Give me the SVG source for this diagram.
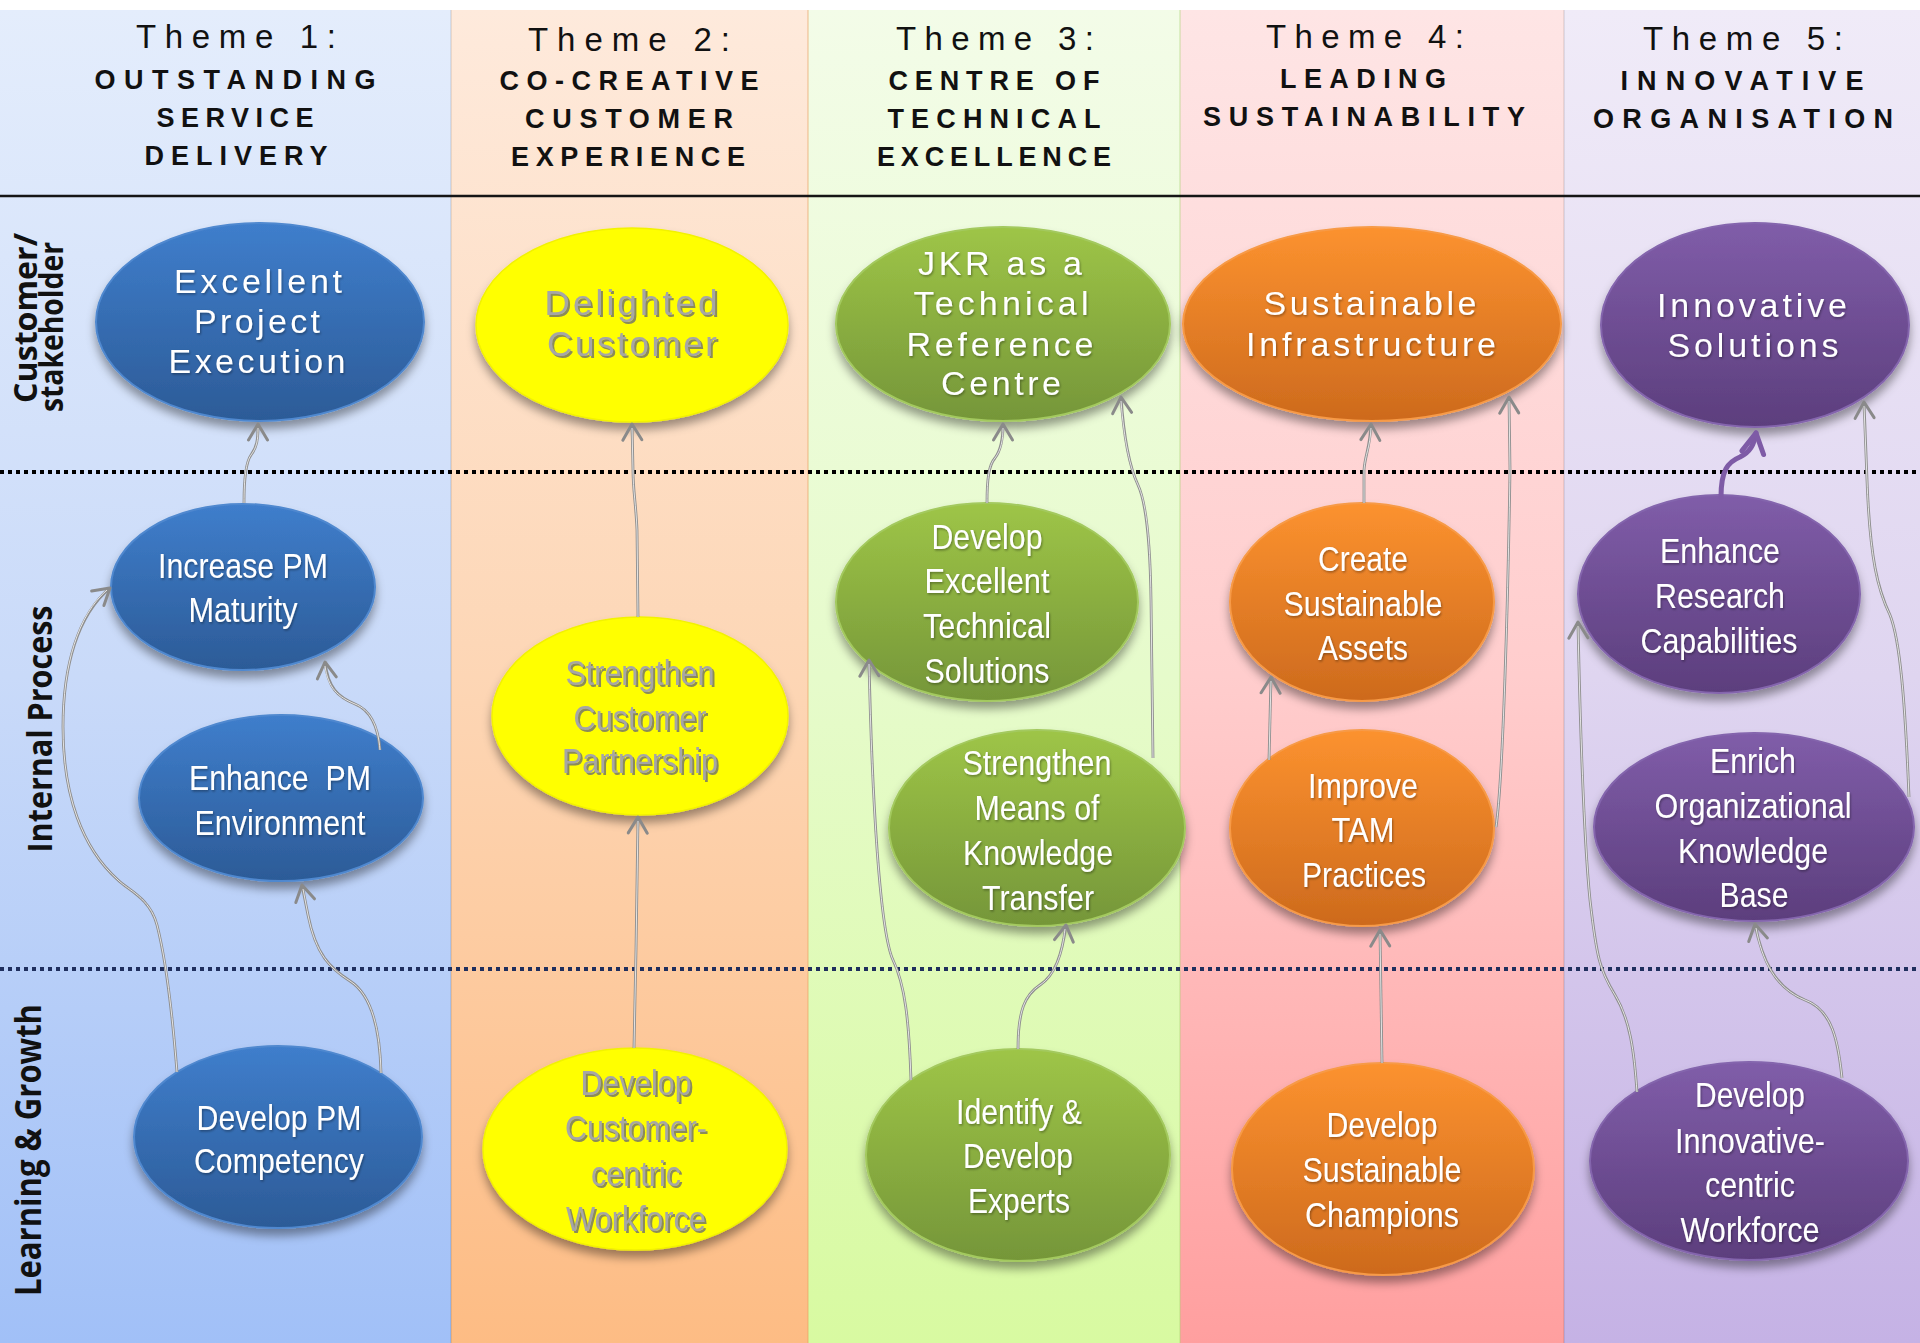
<svg xmlns="http://www.w3.org/2000/svg" width="1920" height="1343" viewBox="0 0 1920 1343">
<defs>
<style>
.hd{font-family:"Liberation Sans",Arial,sans-serif;font-size:33px;fill:#111;text-anchor:middle}
.hb{font-family:"Liberation Sans",Arial,sans-serif;font-size:27px;font-weight:700;fill:#111;text-anchor:middle}
.lab{font-family:"Open Sans","Liberation Sans",sans-serif;font-weight:700;fill:#111;text-anchor:middle}
.t1{font-family:"Liberation Sans",Arial,sans-serif;font-size:34px;fill:#fff;text-anchor:middle;filter:url(#tsh)}
.t{font-family:"Liberation Sans",Arial,sans-serif;font-size:35px;fill:#fff;text-anchor:middle;filter:url(#tsh)}
.ty1{font-family:"Liberation Sans",Arial,sans-serif;font-size:35px;fill:#A6A6A6;text-anchor:middle;filter:url(#ysh)}
.ty{font-family:"Liberation Sans",Arial,sans-serif;font-size:35px;fill:#A6A6A6;text-anchor:middle;filter:url(#ysh)}
.node ellipse{filter:url(#esh)}
.blue{fill:url(#gBlue);stroke:#4F88CF;stroke-width:2}
.yel{fill:#FFFF00;stroke:#F2F200;stroke-width:1.5}
.grn{fill:url(#gGreen);stroke:#A3C95E;stroke-width:2}
.org{fill:url(#gOrange);stroke:#F79A46;stroke-width:2}
.pur{fill:url(#gPurple);stroke:#8465AD;stroke-width:2}
.co{fill:none;stroke:#8E8E8E;stroke-width:2.8;marker-end:url(#arr)}
.ci{fill:none;stroke:#EDEDED;stroke-width:0.9}
.cp{fill:none;stroke:#7E5BA6;stroke-width:5;stroke-linecap:round;marker-end:url(#arrP)}
.dot{stroke-width:4;stroke-dasharray:4 4}
.dsh{stroke:#000;stroke-opacity:0.13;stroke-width:6;filter:url(#blur)}
</style>
<linearGradient id="c1" x1="0" y1="0" x2="0" y2="1"><stop offset="0" stop-color="#E4EDFC"/><stop offset="0.5" stop-color="#C9DAF9"/><stop offset="1" stop-color="#A1C0F7"/></linearGradient>
<linearGradient id="c2" x1="0" y1="0" x2="0" y2="1"><stop offset="0" stop-color="#FEEADC"/><stop offset="0.5" stop-color="#FDD6B5"/><stop offset="1" stop-color="#FDBC84"/></linearGradient>
<linearGradient id="c3" x1="0" y1="0" x2="0" y2="1"><stop offset="0" stop-color="#F3FCE8"/><stop offset="0.5" stop-color="#E6FBCB"/><stop offset="1" stop-color="#D8FAA1"/></linearGradient>
<linearGradient id="c4" x1="0" y1="0" x2="0" y2="1"><stop offset="0" stop-color="#FEE5E5"/><stop offset="0.5" stop-color="#FFCDCD"/><stop offset="1" stop-color="#FF9F9F"/></linearGradient>
<linearGradient id="c5" x1="0" y1="0" x2="0" y2="1"><stop offset="0" stop-color="#F0EBF8"/><stop offset="0.5" stop-color="#DFD5F0"/><stop offset="1" stop-color="#C5B2E5"/></linearGradient>
<linearGradient id="gBlue" x1="0" y1="0" x2="0" y2="1"><stop offset="0" stop-color="#3F7ECC"/><stop offset="1" stop-color="#2C5B97"/></linearGradient>
<linearGradient id="gGreen" x1="0" y1="0" x2="0" y2="1"><stop offset="0" stop-color="#9EC547"/><stop offset="1" stop-color="#759639"/></linearGradient>
<linearGradient id="gOrange" x1="0" y1="0" x2="0" y2="1"><stop offset="0" stop-color="#FC922F"/><stop offset="1" stop-color="#CD6A1D"/></linearGradient>
<linearGradient id="gPurple" x1="0" y1="0" x2="0" y2="1"><stop offset="0" stop-color="#805DA9"/><stop offset="1" stop-color="#5C3E7D"/></linearGradient>
<filter id="esh" x="-20%" y="-20%" width="140%" height="150%"><feDropShadow dx="0" dy="7" stdDeviation="5" flood-color="#000" flood-opacity="0.38"/></filter>
<filter id="tsh" x="-10%" y="-30%" width="120%" height="160%"><feDropShadow dx="1" dy="1.5" stdDeviation="1" flood-color="#000" flood-opacity="0.35"/></filter>
<filter id="ysh" x="-10%" y="-30%" width="120%" height="160%"><feDropShadow dx="2" dy="2" stdDeviation="0.6" flood-color="#6E6E6E" flood-opacity="0.8"/></filter>
<filter id="blur" x="-5%" y="-200%" width="110%" height="500%"><feGaussianBlur stdDeviation="3"/></filter>
<marker id="arr" viewBox="-20 -12 24 24" refX="0" refY="0" markerWidth="24" markerHeight="24" orient="auto" markerUnits="userSpaceOnUse"><path d="M-16,-9.5 L0,0 L-16,9.5" fill="none" stroke="#8A8A8A" stroke-width="3" stroke-linecap="round" stroke-linejoin="round"/></marker>
<marker id="arrP" viewBox="-26 -15 30 30" refX="0" refY="0" markerWidth="30" markerHeight="30" orient="auto" markerUnits="userSpaceOnUse"><path d="M-20,-11 L0,0 L-20,11" fill="none" stroke="#7E5BA6" stroke-width="5" stroke-linecap="round" stroke-linejoin="round"/></marker>
</defs>

<rect x="0" y="0" width="1920" height="1343" fill="#fff"/>

<g id="columns">
<rect x="0" y="10" width="451" height="1333" fill="url(#c1)"/>
<rect x="451" y="10" width="357" height="1333" fill="url(#c2)"/>
<rect x="808" y="10" width="372" height="1333" fill="url(#c3)"/>
<rect x="1180" y="10" width="384" height="1333" fill="url(#c4)"/>
<rect x="1564" y="10" width="356" height="1333" fill="url(#c5)"/>
<line x1="451" y1="10" x2="451" y2="1343" stroke="#000" stroke-opacity="0.08" stroke-width="2"/>
<line x1="808" y1="10" x2="808" y2="1343" stroke="#E8A060" stroke-opacity="0.35" stroke-width="2"/>
<line x1="1180" y1="10" x2="1180" y2="1343" stroke="#A8D070" stroke-opacity="0.3" stroke-width="2"/>
<line x1="1564" y1="10" x2="1564" y2="1343" stroke="#000" stroke-opacity="0.08" stroke-width="2"/>
</g>

<g id="headers">
<text class="hd" x="236" y="48" textLength="200" lengthAdjust="spacing">Theme 1:</text>
<text class="hb" x="235" y="89" textLength="281" lengthAdjust="spacing">OUTSTANDING</text>
<text class="hb" x="235" y="127" textLength="157" lengthAdjust="spacing">SERVICE</text>
<text class="hb" x="236" y="165" textLength="183" lengthAdjust="spacing">DELIVERY</text>
<text class="hd" x="629" y="51" textLength="202" lengthAdjust="spacing">Theme 2:</text>
<text class="hb" x="629" y="90" textLength="259" lengthAdjust="spacing">CO-CREATIVE</text>
<text class="hb" x="629" y="128" textLength="208" lengthAdjust="spacing">CUSTOMER</text>
<text class="hb" x="628" y="166" textLength="234" lengthAdjust="spacing">EXPERIENCE</text>
<text class="hd" x="995" y="50" textLength="198" lengthAdjust="spacing">Theme 3:</text>
<text class="hb" x="994" y="90" textLength="211" lengthAdjust="spacing">CENTRE OF</text>
<text class="hb" x="994" y="128" textLength="213" lengthAdjust="spacing">TECHNICAL</text>
<text class="hb" x="994" y="166" textLength="234" lengthAdjust="spacing">EXCELLENCE</text>
<text class="hd" x="1365" y="48" textLength="198" lengthAdjust="spacing">Theme 4:</text>
<text class="hb" x="1363" y="88" textLength="166" lengthAdjust="spacing">LEADING</text>
<text class="hb" x="1364" y="126" textLength="322" lengthAdjust="spacing">SUSTAINABILITY</text>
<text class="hd" x="1743" y="50" textLength="200" lengthAdjust="spacing">Theme 5:</text>
<text class="hb" x="1742" y="90" textLength="243" lengthAdjust="spacing">INNOVATIVE</text>
<text class="hb" x="1743" y="128" textLength="300" lengthAdjust="spacing">ORGANISATION</text>
</g>

<g id="dividers">
<line class="dsh" x1="0" y1="203" x2="1920" y2="203"/>
<line x1="0" y1="196" x2="1920" y2="196" stroke="#151515" stroke-width="2.5"/>
<line class="dsh" x1="0" y1="479" x2="1920" y2="479"/>
<line class="dot" x1="0" y1="472" x2="1920" y2="472" stroke="#000"/>
<line class="dsh" x1="0" y1="976" x2="1920" y2="976"/>
<line class="dot" x1="0" y1="969" x2="1920" y2="969" stroke="#1F2F5E"/>
</g>

<g id="row-labels">
<text class="lab" font-size="32" transform="translate(37,318) rotate(-90)" textLength="170" lengthAdjust="spacingAndGlyphs">Customer/</text>
<text class="lab" font-size="32" transform="translate(63,327) rotate(-90)" textLength="170" lengthAdjust="spacingAndGlyphs">stakeholder</text>
<text class="lab" font-size="34" transform="translate(52,729) rotate(-90)" textLength="247" lengthAdjust="spacingAndGlyphs">Internal Process</text>
<text class="lab" font-size="35" transform="translate(41,1150) rotate(-90)" textLength="292" lengthAdjust="spacingAndGlyphs">Learning &amp; Growth</text>
</g>

<g id="n-excellent-project-execution" class="node">
<ellipse class="blue" cx="260" cy="322" rx="164" ry="99"/>
<text class="t1" x="258" y="293" textLength="168" lengthAdjust="spacing">Excellent</text>
<text class="t1" x="257" y="333" textLength="126" lengthAdjust="spacing">Project</text>
<text class="t1" x="257" y="373" textLength="177" lengthAdjust="spacing">Execution</text>
</g>
<g id="n-delighted-customer" class="node">
<ellipse class="yel" cx="632" cy="325" rx="156" ry="97"/>
<text class="ty1" x="631" y="315" textLength="173" lengthAdjust="spacing">Delighted</text>
<text class="ty1" x="632" y="356" textLength="170" lengthAdjust="spacing">Customer</text>
</g>
<g id="n-jkr-reference-centre" class="node">
<ellipse class="grn" cx="1003" cy="324" rx="167" ry="97"/>
<text class="t1" x="1000" y="275" textLength="164" lengthAdjust="spacing">JKR as a</text>
<text class="t1" x="1001" y="315" textLength="175" lengthAdjust="spacing">Technical</text>
<text class="t1" x="1000" y="356" textLength="187" lengthAdjust="spacing">Reference</text>
<text class="t1" x="1001" y="395" textLength="120" lengthAdjust="spacing">Centre</text>
</g>
<g id="n-sustainable-infrastructure" class="node">
<ellipse class="org" cx="1372" cy="324" rx="189" ry="97"/>
<text class="t1" x="1370" y="315" textLength="213" lengthAdjust="spacing">Sustainable</text>
<text class="t1" x="1371" y="356" textLength="250" lengthAdjust="spacing">Infrastructure</text>
</g>
<g id="n-innovative-solutions" class="node">
<ellipse class="pur" cx="1755" cy="325" rx="154" ry="102"/>
<text class="t1" x="1752" y="317" textLength="190" lengthAdjust="spacing">Innovative</text>
<text class="t1" x="1753" y="357" textLength="171" lengthAdjust="spacing">Solutions</text>
</g>

<g id="n-increase-pm-maturity" class="node">
<ellipse class="blue" cx="243" cy="587" rx="132" ry="83"/>
<text class="t" x="243" y="578" textLength="170" lengthAdjust="spacingAndGlyphs">Increase PM</text>
<text class="t" x="243" y="622" textLength="109" lengthAdjust="spacingAndGlyphs">Maturity</text>
</g>
<g id="n-enhance-pm-environment" class="node">
<ellipse class="blue" cx="281" cy="798" rx="142" ry="83"/>
<text class="t" x="280" y="790" textLength="182" lengthAdjust="spacingAndGlyphs" style="white-space:pre">Enhance  PM</text>
<text class="t" x="280" y="835" textLength="171" lengthAdjust="spacingAndGlyphs">Environment</text>
</g>
<g id="n-strengthen-customer-partnership" class="node">
<ellipse class="yel" cx="640" cy="716" rx="148" ry="99"/>
<text class="ty" x="640" y="685" textLength="149" lengthAdjust="spacingAndGlyphs">Strengthen</text>
<text class="ty" x="640" y="730" textLength="133" lengthAdjust="spacingAndGlyphs">Customer</text>
<text class="ty" x="640" y="773" textLength="156" lengthAdjust="spacingAndGlyphs">Partnership</text>
</g>
<g id="n-develop-technical-solutions" class="node">
<ellipse class="grn" cx="987" cy="602" rx="151" ry="99"/>
<text class="t" x="987" y="549" textLength="111" lengthAdjust="spacingAndGlyphs">Develop</text>
<text class="t" x="987" y="593" textLength="125" lengthAdjust="spacingAndGlyphs">Excellent</text>
<text class="t" x="987" y="638" textLength="128" lengthAdjust="spacingAndGlyphs">Technical</text>
<text class="t" x="987" y="683" textLength="125" lengthAdjust="spacingAndGlyphs">Solutions</text>
</g>
<g id="n-knowledge-transfer" class="node">
<ellipse class="grn" cx="1037" cy="828" rx="148" ry="98"/>
<text class="t" x="1037" y="775" textLength="149" lengthAdjust="spacingAndGlyphs">Strengthen</text>
<text class="t" x="1037" y="820" textLength="125" lengthAdjust="spacingAndGlyphs">Means of</text>
<text class="t" x="1038" y="865" textLength="150" lengthAdjust="spacingAndGlyphs">Knowledge</text>
<text class="t" x="1038" y="910" textLength="112" lengthAdjust="spacingAndGlyphs">Transfer</text>
</g>
<g id="n-create-sustainable-assets" class="node">
<ellipse class="org" cx="1362" cy="602" rx="132" ry="99"/>
<text class="t" x="1363" y="571" textLength="90" lengthAdjust="spacingAndGlyphs">Create</text>
<text class="t" x="1363" y="616" textLength="159" lengthAdjust="spacingAndGlyphs">Sustainable</text>
<text class="t" x="1363" y="660" textLength="90" lengthAdjust="spacingAndGlyphs">Assets</text>
</g>
<g id="n-improve-tam-practices" class="node">
<ellipse class="org" cx="1362" cy="828" rx="132" ry="98"/>
<text class="t" x="1363" y="798" textLength="110" lengthAdjust="spacingAndGlyphs">Improve</text>
<text class="t" x="1363" y="842" textLength="63" lengthAdjust="spacingAndGlyphs">TAM</text>
<text class="t" x="1364" y="887" textLength="124" lengthAdjust="spacingAndGlyphs">Practices</text>
</g>
<g id="n-enhance-research" class="node">
<ellipse class="pur" cx="1719" cy="594" rx="141" ry="99"/>
<text class="t" x="1720" y="563" textLength="120" lengthAdjust="spacingAndGlyphs">Enhance</text>
<text class="t" x="1720" y="608" textLength="130" lengthAdjust="spacingAndGlyphs">Research</text>
<text class="t" x="1719" y="653" textLength="157" lengthAdjust="spacingAndGlyphs">Capabilities</text>
</g>
<g id="n-enrich-knowledge-base" class="node">
<ellipse class="pur" cx="1754" cy="827" rx="160" ry="94"/>
<text class="t" x="1753" y="773" textLength="86" lengthAdjust="spacingAndGlyphs">Enrich</text>
<text class="t" x="1753" y="818" textLength="197" lengthAdjust="spacingAndGlyphs">Organizational</text>
<text class="t" x="1753" y="863" textLength="150" lengthAdjust="spacingAndGlyphs">Knowledge</text>
<text class="t" x="1754" y="907" textLength="69" lengthAdjust="spacingAndGlyphs">Base</text>
</g>

<g id="n-develop-pm-competency" class="node">
<ellipse class="blue" cx="278" cy="1137" rx="144" ry="91"/>
<text class="t" x="279" y="1130" textLength="165" lengthAdjust="spacingAndGlyphs">Develop PM</text>
<text class="t" x="279" y="1173" textLength="170" lengthAdjust="spacingAndGlyphs">Competency</text>
</g>
<g id="n-customer-centric-workforce" class="node">
<ellipse class="yel" cx="635" cy="1149" rx="152" ry="101"/>
<text class="ty" x="636" y="1095" textLength="111" lengthAdjust="spacingAndGlyphs">Develop</text>
<text class="ty" x="636" y="1140" textLength="142" lengthAdjust="spacingAndGlyphs">Customer-</text>
<text class="ty" x="636" y="1186" textLength="90" lengthAdjust="spacingAndGlyphs">centric</text>
<text class="ty" x="636" y="1231" textLength="140" lengthAdjust="spacingAndGlyphs">Workforce</text>
</g>
<g id="n-identify-develop-experts" class="node">
<ellipse class="grn" cx="1018" cy="1155" rx="152" ry="106"/>
<text class="t" x="1019" y="1124" textLength="126" lengthAdjust="spacingAndGlyphs">Identify &amp;</text>
<text class="t" x="1018" y="1168" textLength="110" lengthAdjust="spacingAndGlyphs">Develop</text>
<text class="t" x="1019" y="1213" textLength="102" lengthAdjust="spacingAndGlyphs">Experts</text>
</g>
<g id="n-sustainable-champions" class="node">
<ellipse class="org" cx="1383" cy="1169" rx="151" ry="106"/>
<text class="t" x="1382" y="1137" textLength="111" lengthAdjust="spacingAndGlyphs">Develop</text>
<text class="t" x="1382" y="1182" textLength="159" lengthAdjust="spacingAndGlyphs">Sustainable</text>
<text class="t" x="1382" y="1227" textLength="154" lengthAdjust="spacingAndGlyphs">Champions</text>
</g>
<g id="n-innovative-centric-workforce" class="node">
<ellipse class="pur" cx="1749" cy="1161" rx="159" ry="99"/>
<text class="t" x="1750" y="1107" textLength="110" lengthAdjust="spacingAndGlyphs">Develop</text>
<text class="t" x="1750" y="1153" textLength="150" lengthAdjust="spacingAndGlyphs">Innovative-</text>
<text class="t" x="1750" y="1197" textLength="90" lengthAdjust="spacingAndGlyphs">centric</text>
<text class="t" x="1750" y="1242" textLength="139" lengthAdjust="spacingAndGlyphs">Workforce</text>
</g>

<g id="connectors">
<path class="co" d="M244,503 C244,478 246,462 251,455 C257,447 258,440 258,424"/>
<path class="ci" d="M244,503 C244,478 246,462 251,455 C257,447 258,440 258,428"/>
<path class="co" d="M177,1072 C172,1010 166,960 157,925 C150,898 128,890 118,880 C82,848 63,795 63,727 C63,665 78,615 110,588"/>
<path class="ci" d="M177,1072 C172,1010 166,960 157,925 C150,898 128,890 118,880 C82,848 63,795 63,727 C63,665 78,615 107,590"/>
<path class="co" d="M381,1073 C380,1030 372,995 350,981 C330,968 316,955 308,915 L302,885"/>
<path class="ci" d="M381,1073 C380,1030 372,995 350,981 C330,968 316,955 308,915 L303,889"/>
<path class="co" d="M380,750 C378,725 370,710 355,704 C338,697 328,688 325,662"/>
<path class="ci" d="M380,750 C378,725 370,710 355,704 C338,697 328,688 325,666"/>
<path class="co" d="M638,617 L637,530 C636,505 633,490 633,470 L632,424"/>
<path class="ci" d="M638,617 L637,530 C636,505 633,490 633,470 L632,428"/>
<path class="co" d="M634,1048 L636,950 L638,817"/>
<path class="ci" d="M634,1048 L636,950 L638,821"/>
<path class="co" d="M987,503 C987,478 989,465 995,458 C1001,450 1003,440 1003,424"/>
<path class="ci" d="M987,503 C987,478 989,465 995,458 C1001,450 1003,440 1003,428"/>
<path class="co" d="M1153,758 L1151,600 C1150,530 1145,500 1138,485 C1130,468 1124,440 1121,397"/>
<path class="ci" d="M1153,758 L1151,600 C1150,530 1145,500 1138,485 C1130,468 1124,440 1121,401"/>
<path class="co" d="M911,1080 C909,1020 905,985 893,960 C880,932 872,800 869,660"/>
<path class="ci" d="M911,1080 C909,1020 905,985 893,960 C880,932 872,800 869,664"/>
<path class="co" d="M1018,1049 C1018,1010 1025,995 1040,985 C1055,975 1062,955 1066,925"/>
<path class="ci" d="M1018,1049 C1018,1010 1025,995 1040,985 C1055,975 1062,955 1065,929"/>
<path class="co" d="M1364,503 L1364,470 C1365,455 1370,448 1371,424"/>
<path class="ci" d="M1364,503 L1364,470 C1365,455 1370,448 1371,428"/>
<path class="co" d="M1496,827 C1503,780 1508,600 1510,470 L1509,397"/>
<path class="ci" d="M1496,827 C1503,780 1508,600 1510,470 L1509,401"/>
<path class="co" d="M1269,760 L1271,677"/>
<path class="ci" d="M1269,760 L1271,681"/>
<path class="co" d="M1382,1063 L1380,930"/>
<path class="ci" d="M1382,1063 L1380,934"/>
<path class="cp" d="M1721,497 C1721,470 1728,462 1740,457 C1750,452 1754,445 1756,433"/>
<path class="co" d="M1909,797 C1905,700 1900,640 1890,615 C1878,590 1870,560 1867,480 L1864,402"/>
<path class="ci" d="M1909,797 C1905,700 1900,640 1890,615 C1878,590 1870,560 1867,480 L1864,406"/>
<path class="co" d="M1637,1092 C1634,1050 1630,1020 1615,995 C1600,970 1597,960 1590,900 C1584,840 1580,720 1578,622"/>
<path class="ci" d="M1637,1092 C1634,1050 1630,1020 1615,995 C1600,970 1597,960 1590,900 C1584,840 1580,720 1578,626"/>
<path class="co" d="M1842,1078 C1838,1040 1832,1010 1805,1000 C1775,988 1762,960 1755,924"/>
<path class="ci" d="M1842,1078 C1838,1040 1832,1010 1805,1000 C1775,988 1762,960 1756,928"/>
</g>
</svg>
